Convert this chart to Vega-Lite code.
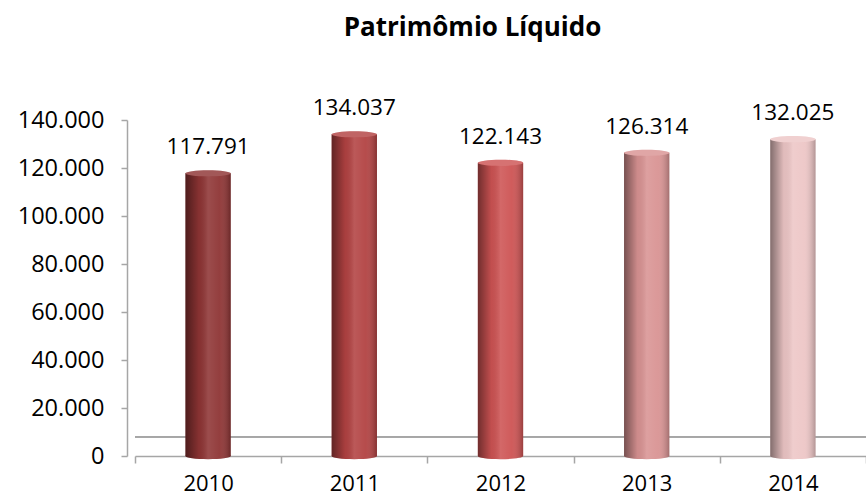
{
  "$schema": "https://vega.github.io/schema/vega-lite/v6.json",
  "width": 731,
  "height": 336,
  "autosize": {"type": "none"},
  "padding": {"left": 135, "top": 120, "right": 0, "bottom": 41},
  "background": "white",
  "config": {
    "locale": {"number": {"decimal": ",", "thousands": ".", "grouping": [3], "currency": ["R$", ""]}},
    "font": "Open Sans",
    "view": {"stroke": null}
  },
  "title": {
    "text": "Patrimômio Líquido",
    "font": "Open Sans",
    "fontSize": 26,
    "fontWeight": "bold",
    "color": "#000000",
    "anchor": "middle",
    "frame": "group",
    "dx": -28,
    "offset": 56
  },
  "data": {
    "values": [
      {"ano": "2010", "valor": 117791},
      {"ano": "2011", "valor": 134037},
      {"ano": "2012", "valor": 122143},
      {"ano": "2013", "valor": 126314},
      {"ano": "2014", "valor": 132025}
    ]
  },
  "encoding": {
    "x": {
      "field": "ano",
      "type": "nominal",
      "scale": {"paddingInner": 0, "paddingOuter": 0},
      "axis": {
        "title": null,
        "labelAngle": 0,
        "labelFont": "Open Sans",
        "labelFontSize": 22,
        "labelColor": "#000000",
        "labelPadding": 10,
        "domainColor": "#A6A6A6",
        "domainWidth": 1.5,
        "tickColor": "#A6A6A6",
        "tickWidth": 1.5,
        "tickSize": 7,
        "tickBand": "extent"
      }
    }
  },
  "layer": [
    {
      "mark": {"type": "rule", "color": "#A6A6A6", "strokeWidth": 1.5},
      "encoding": {"y": {"datum": 8000, "type": "quantitative"}, "x": null}
    },
    {
      "mark": {"type": "bar", "width": {"band": 0.31}},
      "encoding": {
        "y": {
          "field": "valor",
          "type": "quantitative",
          "scale": {"domain": [0, 140000], "nice": false},
          "axis": {
            "title": null,
            "values": [0, 20000, 40000, 60000, 80000, 100000, 120000, 140000],
            "format": ",.0f",
            "grid": false,
            "offset": 8,
            "labelFont": "Open Sans",
            "labelFontSize": 23.5,
            "labelColor": "#000000",
            "labelPadding": 17,
            "domainColor": "#A6A6A6",
            "domainWidth": 1.5,
            "tickColor": "#A6A6A6",
            "tickWidth": 1.5,
            "tickSize": 6
          }
        },
        "color": {
          "field": "ano",
          "type": "nominal",
          "scale": {"range": ["#8E3434", "#B24242", "#CD5353", "#D99393", "#EDC6C6"]},
          "legend": null
        }
      }
    },
    {
      "mark": {"type": "point", "filled": true, "opacity": 1, "size": 2050, "shape": "M-1,0A1,0.14,0,1,0,1,0A1,0.14,0,1,0,-1,0Z"},
      "encoding": {
        "y": {"datum": 0, "type": "quantitative"},
        "color": {"field": "ano", "type": "nominal", "legend": null}
      }
    },
    {
      "mark": {
        "type": "bar",
        "width": {"band": 0.31},
        "fill": {
          "gradient": "linear",
          "x1": 0, "y1": 0, "x2": 1, "y2": 0,
          "stops": [
            {"offset": 0, "color": "rgba(0,0,0,0.45)"},
            {"offset": 0.3, "color": "rgba(0,0,0,0.05)"},
            {"offset": 0.5, "color": "rgba(255,255,255,0.12)"},
            {"offset": 0.75, "color": "rgba(255,255,255,0.05)"},
            {"offset": 1, "color": "rgba(0,0,0,0.25)"}
          ]
        }
      },
      "encoding": {"y": {"field": "valor", "type": "quantitative"}}
    },
    {
      "mark": {
        "type": "point",
        "filled": true,
        "opacity": 1,
        "size": 2050,
        "shape": "M-1,0A1,0.14,0,1,0,1,0Z",
        "fill": {
          "gradient": "linear",
          "x1": 0, "y1": 0, "x2": 1, "y2": 0,
          "stops": [
            {"offset": 0, "color": "rgba(0,0,0,0.45)"},
            {"offset": 0.3, "color": "rgba(0,0,0,0.05)"},
            {"offset": 0.5, "color": "rgba(255,255,255,0.12)"},
            {"offset": 0.75, "color": "rgba(255,255,255,0.05)"},
            {"offset": 1, "color": "rgba(0,0,0,0.25)"}
          ]
        }
      },
      "encoding": {"y": {"datum": 0, "type": "quantitative"}}
    },
    {
      "mark": {"type": "point", "filled": true, "opacity": 1, "size": 2050, "shape": "M-1,0A1,0.14,0,1,0,1,0A1,0.14,0,1,0,-1,0Z"},
      "encoding": {
        "y": {"field": "valor", "type": "quantitative"},
        "color": {"field": "ano", "type": "nominal", "legend": null}
      }
    },
    {
      "mark": {"type": "point", "filled": true, "opacity": 0.18, "color": "white", "size": 2050, "shape": "M-1,0A1,0.14,0,1,0,1,0A1,0.14,0,1,0,-1,0Z"},
      "encoding": {"y": {"field": "valor", "type": "quantitative"}}
    },
    {
      "mark": {"type": "text", "dy": -26, "font": "Open Sans", "fontSize": 22.5, "color": "#000000", "baseline": "middle"},
      "encoding": {
        "y": {"field": "valor", "type": "quantitative"},
        "text": {"field": "valor", "type": "quantitative", "format": ",.0f"}
      }
    }
  ]
}
